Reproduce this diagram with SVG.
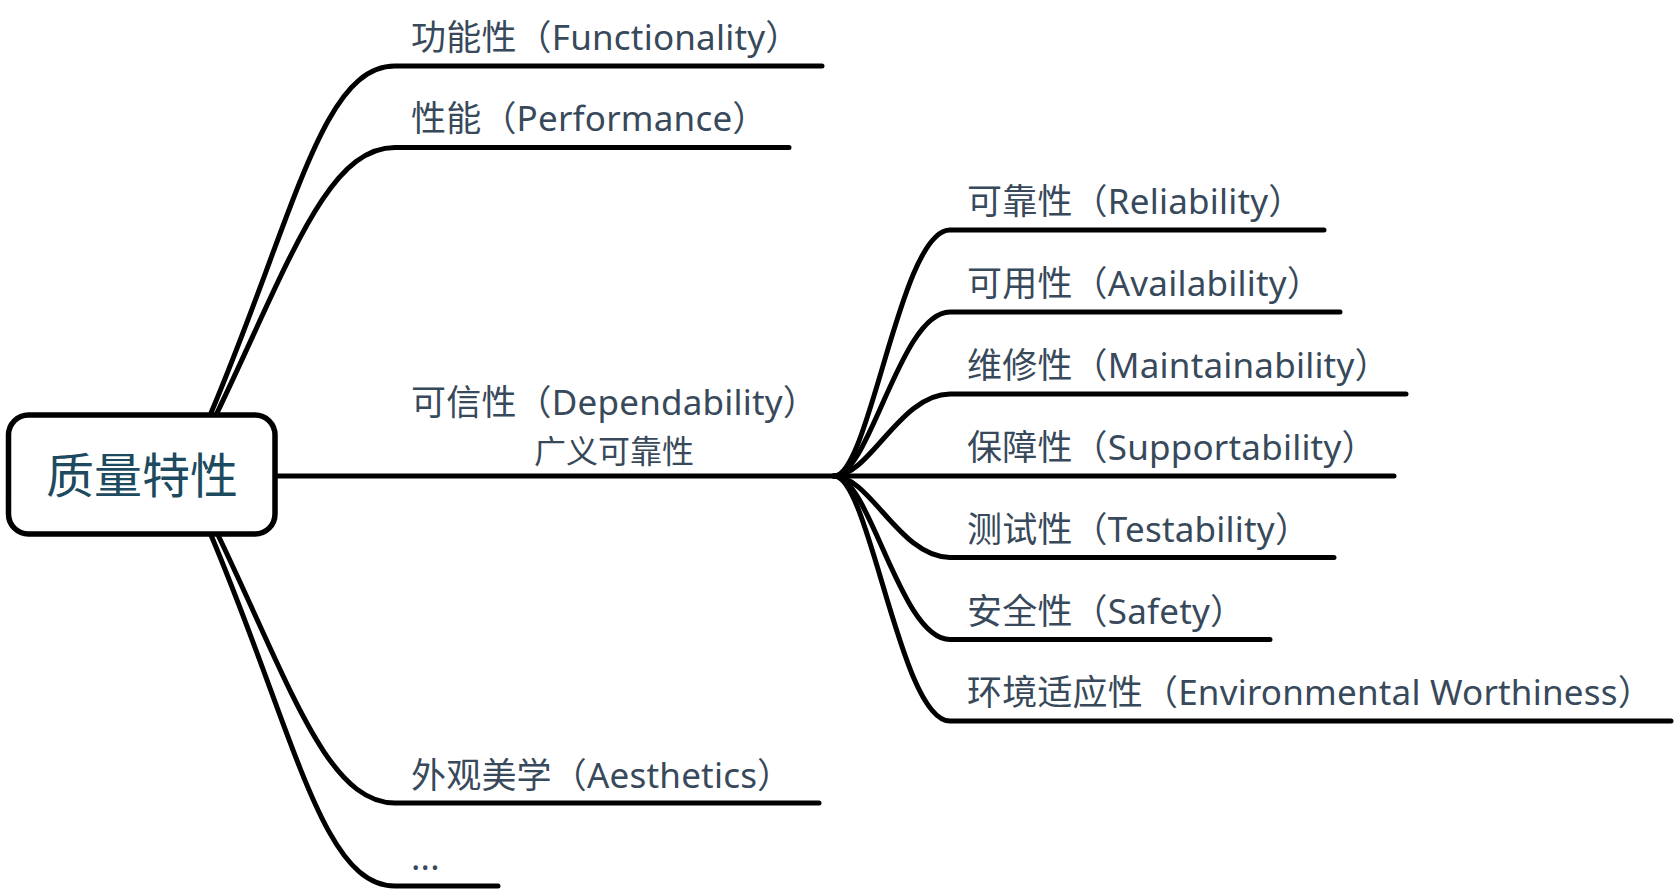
<svg xmlns="http://www.w3.org/2000/svg" width="1676" height="894" viewBox="0 0 1676 894">
  <style>
    .conn { fill: none; stroke: #000; stroke-width: 5; stroke-linecap: round; stroke-linejoin: round; }
    .lbl { font-family: "Noto Sans", "Noto Sans CJK SC", sans-serif; font-size: 35px; fill: #37495a; letter-spacing: 0.2px; }
    .sub { font-size: 32px; letter-spacing: 0; }
    .root-box { fill: #fff; stroke: #000; stroke-width: 5.5; }
    .root-txt { font-family: "Noto Sans CJK SC", "Noto Sans", sans-serif; font-size: 48px; fill: #1d4a5e; }
  </style>
  <rect width="1676" height="894" fill="#fff"/>
  <g id="connectors">
    <path class="conn" d="M 211 413 C 295 213, 322 66, 395 66 L 822 66"/>
    <path class="conn" d="M 217 413 C 289 263, 327 147.5, 395 147.5 L 789 147.5"/>
    <path class="conn" d="M 277 476 L 834 476"/>
    <path class="conn" d="M 218 535 C 290 685, 327 803, 395 803 L 819 803"/>
    <path class="conn" d="M 211 535 C 295 735, 322 886, 395 886 L 498 886"/>
    <path class="conn" d="M 834 476 C 870 476, 900 230, 950 230 L 1324 230"/>
    <path class="conn" d="M 834 476 C 870 476, 900 312, 950 312 L 1340 312"/>
    <path class="conn" d="M 834 476 C 870 476, 900 394, 950 394 L 1406 394"/>
    <path class="conn" d="M 834 476 L 1394 476"/>
    <path class="conn" d="M 834 476 C 870 476, 900 557.5, 950 557.5 L 1334 557.5"/>
    <path class="conn" d="M 834 476 C 870 476, 900 639.5, 950 639.5 L 1270 639.5"/>
    <path class="conn" d="M 834 476 C 870 476, 900 721, 950 721 L 1671 721"/>
  </g>
  <g id="root">
    <rect class="root-box" x="8.5" y="415" width="266.5" height="119" rx="20"/>
    <text class="root-txt" x="142" y="493" text-anchor="middle">质量特性</text>
  </g>
  <g id="n-functionality"><text class="lbl" x="411" y="50">功能性（Functionality）</text></g>
  <g id="n-performance"><text class="lbl" x="411" y="131">性能（Performance）</text></g>
  <g id="n-dependability">
    <text class="lbl" x="411" y="415">可信性（Dependability）</text>
    <text class="lbl sub" x="614" y="463" text-anchor="middle">广义可靠性</text>
  </g>
  <g id="n-aesthetics"><text class="lbl" x="411" y="788">外观美学（Aesthetics）</text></g>
  <g id="n-more"><text class="lbl" x="411" y="870">...</text></g>
  <g id="n-reliability"><text class="lbl" x="967" y="214">可靠性（Reliability）</text></g>
  <g id="n-availability"><text class="lbl" x="967" y="296">可用性（Availability）</text></g>
  <g id="n-maintainability"><text class="lbl" x="967" y="378">维修性（Maintainability）</text></g>
  <g id="n-supportability"><text class="lbl" x="967" y="460">保障性（Supportability）</text></g>
  <g id="n-testability"><text class="lbl" x="967" y="541.5">测试性（Testability）</text></g>
  <g id="n-safety"><text class="lbl" x="967" y="623.5">安全性（Safety）</text></g>
  <g id="n-environmental"><text class="lbl" x="967" y="705">环境适应性（Environmental Worthiness）</text></g>
</svg>
